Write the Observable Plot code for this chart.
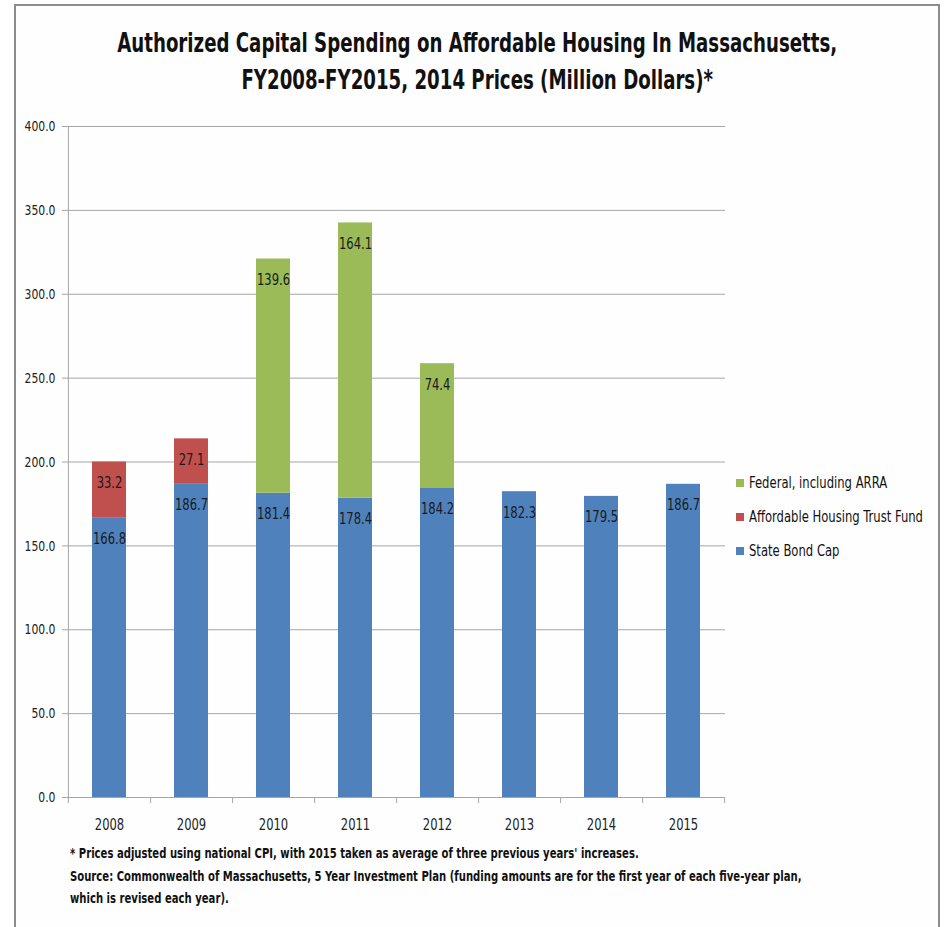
<!DOCTYPE html>
<html>
<head>
<meta charset="utf-8">
<script src="https://cdn.jsdelivr.net/npm/d3@7"></script>
<script src="https://cdn.jsdelivr.net/npm/@observablehq/plot@0.6"></script>
<style>
  html, body { margin: 0; padding: 0; background: #ffffff; }
  #wrap { position: relative; width: 946px; height: 927px; overflow: hidden;
    font-family: "DejaVu Sans Condensed", "DejaVu Sans", sans-serif; }
  #frame { position: absolute; left: 14px; top: 4px; width: 926px; height: 940px;
    border: 2px solid #8c8c8c; background: #fefefe; box-sizing: border-box; }
  .sq { white-space: nowrap; display: inline-block; }
  #title { position: absolute; left: -123px; width: 1200px; top: 24px; text-align: center;
    font-weight: bold; font-size: 27px; line-height: 37px; color: #111; }
  #title .sq { transform: scaleX(0.748); transform-origin: center; }
  #chart { position: absolute; left: 0; top: 110px; }
  #legend { position: absolute; left: 736px; top: 466px; font-size: 15px; color: #111; }
  #legend .row { display: flex; align-items: center; height: 34px; white-space: nowrap; }
  #legend .sw { width: 8px; height: 8px; margin-right: 5px; flex: none; }
  #legend .sq { transform: scaleX(0.86); transform-origin: left center; }
  #note { position: absolute; left: 70px; top: 842px; font-size: 14px; font-weight: bold;
    line-height: 22.5px; color: #111; }
  #note .sq { transform: scaleX(0.8); transform-origin: left center; display: block; }
</style>
</head>
<body>
<div id="wrap">
  <div id="frame"></div>
  <div id="title"><span class="sq">Authorized Capital Spending on Affordable Housing In Massachusetts,</span><br><span class="sq">FY2008-FY2015, 2014 Prices (Million Dollars)*</span></div>
  <div id="chart"></div>
  <div id="legend"></div>
  <div id="note"><span class="sq">* Prices adjusted using national CPI, with 2015 taken as average of three previous years' increases.</span><span class="sq">Source: Commonwealth of Massachusetts, 5 Year Investment Plan (funding amounts are for the first year of each five-year plan,</span><span class="sq">which is revised each year).</span></div>
</div>
<script>
const years = ["2008","2009","2010","2011","2012","2013","2014","2015"];
const seriesNames = ["State Bond Cap", "Affordable Housing Trust Fund", "Federal, including ARRA"];
const seriesColors = ["#4f81bd", "#c0504d", "#9bbb59"];
const stateBondCap = [166.8, 186.7, 181.4, 178.4, 184.2, 182.3, 179.5, 186.7];
const housingTrustFund = [33.2, 27.1, 0, 0, 0, 0, 0, 0];
const federalARRA = [0, 0, 139.6, 164.1, 74.4, 0, 0, 0];
const yTicks = [0, 50, 100, 150, 200, 250, 300, 350, 400];

const seriesValues = [stateBondCap, housingTrustFund, federalARRA];
const data = [];
years.forEach((yr, i) => {
  seriesNames.forEach((s, k) => {
    const v = seriesValues[k][i];
    if (v > 0) data.push({year: yr, series: s, value: v});
  });
});

const W = 946, H = 730;
const mL = 67, mR = 221, mT = 16, mB = 43;
const step = (W - mL - mR) / years.length;

const gray = "#a6a6a6";
const font = '"DejaVu Sans Condensed", "DejaVu Sans", sans-serif';

const chart = Plot.plot({
  width: W, height: H,
  marginLeft: mL, marginRight: mR, marginTop: mT, marginBottom: mB,
  style: {fontFamily: font, background: "transparent", color: "#222"},
  x: {domain: years, paddingInner: 0.59, paddingOuter: 0.295, label: null},
  y: {domain: [0, 400], label: null},
  color: {domain: seriesNames, range: seriesColors},
  marks: [
    Plot.ruleY(yTicks, {stroke: gray, strokeWidth: 1, insetLeft: -5}),
    Plot.ruleX([years[0]], {x: d => d, dx: -step / 2, y1: 400, y2: 0, insetBottom: -6, stroke: gray}),
    Plot.ruleX(years, {x: d => d, dx: step / 2, y1: 0, y2: 0, insetBottom: -6, stroke: gray}),
    Plot.barY(data, {x: "year", y: "value", fill: "series", order: seriesNames}),
    Plot.text(data, Plot.stackY2({x: "year", y: "value", z: "series", order: seriesNames,
      text: d => d.value.toFixed(1), dy: 21, fontSize: 15.5, fill: "#1a1a1a"})),
    Plot.axisY({ticks: yTicks, tickSize: 0, tickPadding: 12, tickFormat: d => d.toFixed(1),
      fontSize: 14.5, fill: "#222", label: null}),
    Plot.axisX({tickSize: 0, tickPadding: 21, fontSize: 15.5, fill: "#222", label: null})
  ]
});
// condense SVG text horizontally (Calibri-like narrow look)
chart.querySelectorAll("text").forEach(t => {
  const tr = t.getAttribute("transform") || "";
  t.setAttribute("transform", (tr + " scale(0.83,1)").trim());
});
document.getElementById("chart").appendChild(chart);

const legend = document.getElementById("legend");
[2, 1, 0].forEach(k => {
  const row = document.createElement("div");
  row.className = "row";
  const sw = document.createElement("div");
  sw.className = "sw";
  sw.style.background = seriesColors[k];
  const t = document.createElement("span");
  t.className = "sq";
  t.textContent = seriesNames[k];
  row.appendChild(sw); row.appendChild(t);
  legend.appendChild(row);
});
</script>
</body>
</html>
